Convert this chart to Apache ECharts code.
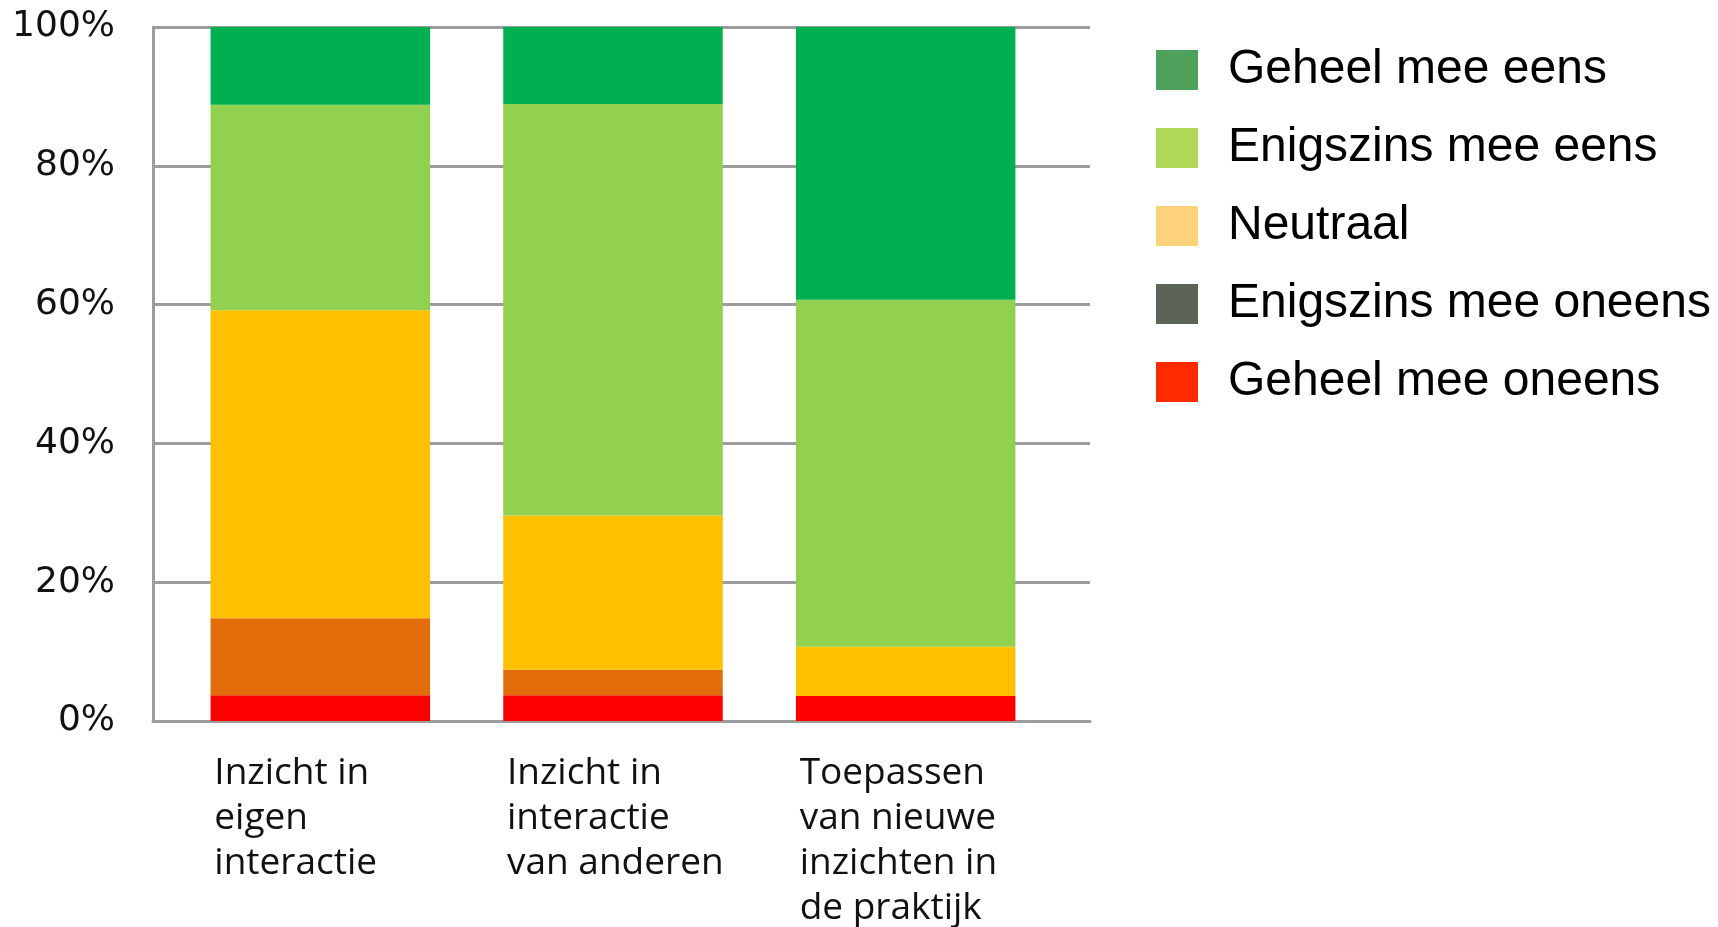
<!DOCTYPE html>
<html>
<head>
    <meta charset="utf-8">
    <title>Stellingen</title>
    <style>
        html, body {
            margin: 0;
            padding: 0;
            background-color: #fff;
        }
        #chart {
            width: 1718px;
            height: 927px;
        }
    </style>
</head>
<body>
    <div id="chart"></div>
</body>
<script src="https://cdn.jsdelivr.net/npm/echarts@6/dist/echarts.min.js"></script>
<script type="text/javascript">
    var categories = ['Inzicht in\neigen\ninteractie', 'Inzicht in\ninteractie\nvan anderen', 'Toepassen\nvan nieuwe\ninzichten in\nde praktijk'];
    var yTicks = [0, 20, 40, 60, 80, 100];

    // percentages per categorie, van onder naar boven gestapeld
    var geheelOneens = [3.7, 3.7, 3.6];
    var enigszinsOneens = [11.1, 3.7, 0];
    var neutraal = [44.4, 22.2, 7.1];
    var enigszinsEens = [29.6, 59.3, 50.0];
    var geheelEens = [11.2, 11.1, 39.3];

    var gridColor = '#9c9c9c';
    var labelFont = "'Open Sans', 'Noto Sans', sans-serif";

    function barSeries(name, data, color) {
        return {
            name: name,
            type: 'bar',
            stack: 'totaal',
            xAxisIndex: 1,
            yAxisIndex: 1,
            barWidth: '75%',
            itemStyle: { color: color },
            data: data
        };
    }

    var myChart = echarts.init(document.getElementById('chart'), null, { renderer: 'canvas' });

    var option = {
        animation: false,
        backgroundColor: '#fff',
        grid: [
            // assen en hulplijnen
            { left: 153, right: 628, top: 27, bottom: 206 },
            // staven
            { left: 174, right: 666, top: 27, bottom: 206 }
        ],
        legend: {
            orient: 'vertical',
            left: 1151,
            top: 41,
            itemWidth: 42,
            itemHeight: 40,
            itemGap: 30,
            icon: 'rect',
            selectedMode: false,
            textStyle: {
                fontFamily: "'Liberation Sans', Arial, sans-serif",
                fontSize: 48,
                color: '#000',
                lineHeight: 40,
                padding: [0, 0, 0, 25]
            },
            data: [
                { name: 'Geheel mee eens', itemStyle: { color: '#4ea25b' } },
                { name: 'Enigszins mee eens', itemStyle: { color: '#b0d95a' } },
                { name: 'Neutraal', itemStyle: { color: '#fdd27a' } },
                { name: 'Enigszins mee oneens', itemStyle: { color: '#5b6356' } },
                { name: 'Geheel mee oneens', itemStyle: { color: '#ff2a00' } }
            ]
        },
        xAxis: [
            {
                gridIndex: 0,
                type: 'value',
                min: 0,
                max: 1,
                axisLine: { show: true, onZero: false, lineStyle: { color: gridColor, width: 3 } },
                axisTick: { show: false },
                axisLabel: { show: false },
                splitLine: { show: false }
            },
            {
                gridIndex: 1,
                type: 'category',
                data: categories,
                axisLine: { show: false },
                axisTick: { show: false },
                axisLabel: {
                    margin: 30,
                    interval: 0,
                    formatter: function (v) {
                        return '{t|' + v + '}';
                    },
                    rich: {
                        t: {
                            width: 212,
                            align: 'left',
                            fontFamily: labelFont,
                            fontSize: 37,
                            lineHeight: 45,
                            color: '#111'
                        }
                    }
                }
            }
        ],
        yAxis: [
            {
                gridIndex: 0,
                type: 'value',
                min: yTicks[0],
                max: yTicks[yTicks.length - 1],
                interval: 20,
                axisLine: { show: true, lineStyle: { color: gridColor, width: 3 } },
                axisTick: { show: false },
                axisLabel: {
                    margin: 38,
                    padding: [7, 0, 0, 0],
                    fontFamily: "'DejaVu Sans', sans-serif",
                    fontSize: 36,
                    color: '#111',
                    formatter: '{value}%'
                },
                splitLine: { show: true, lineStyle: { color: gridColor, width: 3 } }
            },
            {
                gridIndex: 1,
                type: 'value',
                min: 0,
                max: 100,
                show: false
            }
        ],
        series: [
            barSeries('Geheel mee oneens', geheelOneens, '#ff0000'),
            barSeries('Enigszins mee oneens', enigszinsOneens, '#e36c0a'),
            barSeries('Neutraal', neutraal, '#ffc000'),
            barSeries('Enigszins mee eens', enigszinsEens, '#92d050'),
            barSeries('Geheel mee eens', geheelEens, '#00b050')
        ]
    };

    myChart.setOption(option);
</script>
</html>
